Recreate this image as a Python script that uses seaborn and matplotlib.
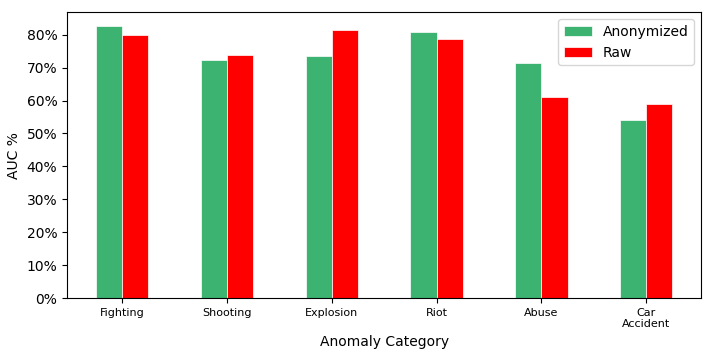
import matplotlib
matplotlib.use("Agg")
import matplotlib.pyplot as plt
import matplotlib.ticker as mticker
import pandas as pd
import seaborn as sns

categories = ["Fighting", "Shooting", "Explosion", "Riot", "Abuse", "Car\nAccident"]
anonymized = [82.7, 72.3, 73.6, 80.9, 71.4, 54.1]
raw = [80.0, 73.9, 81.5, 78.7, 61.1, 59.0]

df = pd.DataFrame({
    "category": categories * 2,
    "auc": anonymized + raw,
    "type": ["Anonymized"] * len(categories) + ["Raw"] * len(categories),
})

sns.set_style("white")
plt.rcParams["font.family"] = ["DejaVu Sans"]
plt.rcParams["text.color"] = "black"
plt.rcParams["axes.labelcolor"] = "black"
plt.rcParams["xtick.color"] = "black"
plt.rcParams["ytick.color"] = "black"

fig, ax = plt.subplots(figsize=(7.14, 3.57), dpi=100)
sns.barplot(data=df, x="category", y="auc", hue="type", width=0.5,
            palette={"Anonymized": "#3CB371", "Raw": "#FF0000"},
            edgecolor="white", linewidth=0.5, saturation=1, ax=ax)

ax.set_xlim(-0.525, 5.525)
ax.yaxis.set_major_locator(mticker.MultipleLocator(10))
ax.yaxis.set_major_formatter(mticker.FuncFormatter(lambda v, p: f"{v:.0f}%"))
ax.set_xlabel("Anomaly Category", fontsize=10)
ax.set_ylabel("AUC %", fontsize=10)
ax.tick_params(axis="x", labelsize=8, length=3.5, bottom=True)
ax.tick_params(axis="y", labelsize=10, length=3.5, left=True)
for s in ax.spines.values():
    s.set_color("black")
    s.set_linewidth(0.8)
ax.legend(title=None, loc="upper right", fontsize=10)

plt.subplots_adjust(left=0.094, right=0.982, top=0.966, bottom=0.165)
plt.savefig("out.png", dpi=100)
